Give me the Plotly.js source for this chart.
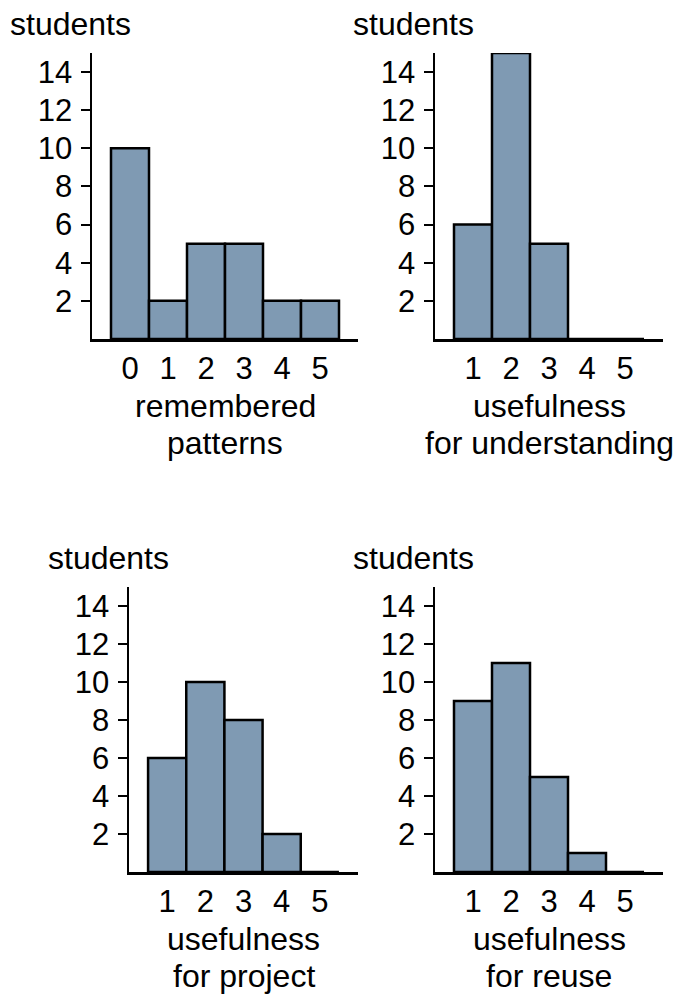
<!DOCTYPE html>
<html>
<head>
<meta charset="utf-8">
<script src="https://cdn.plot.ly/plotly-3.0.1.min.js"></script>
<style>
  html, body { margin: 0; padding: 0; background: #fff; }
  #chart { width: 676px; height: 994px; }
</style>
</head>
<body>
<div id="chart"></div>
<script>
// ---- data ----
const patternsCats = [0, 1, 2, 3, 4, 5];
const patternsCounts = [10, 2, 5, 5, 2, 2];

const ratingCats = [1, 2, 3, 4, 5];
const understandingCounts = [6, 15, 5, 0, 0];
const projectCounts = [6, 10, 8, 2, 0];
const reuseCounts = [9, 11, 5, 1, 0];

const yTickVals = [2, 4, 6, 8, 10, 12, 14];
const yLabel = "students";
const xTitles = [
  ["remembered", "patterns"],
  ["usefulness", "for understanding"],
  ["usefulness", "for project"],
  ["usefulness", "for reuse"]
];

// ---- styling ----
const W = 676, H = 994;
const FONT = "Liberation Sans, Arial, Helvetica, sans-serif";
const FS = 31;      // tick labels
const FS_T = 32;    // titles
const barColor = "#7f9ab3";

function px(x) { return x / W; }
function py(y) { return 1 - y / H; }

function barTrace(cats, vals, xa, ya) {
  return {
    type: "bar", x: cats, y: vals, width: 1,
    xaxis: xa, yaxis: ya,
    marker: { color: barColor, line: { color: "#000", width: 2.5 } },
    hoverinfo: "x+y"
  };
}

const traces = [
  barTrace(patternsCats, patternsCounts, "x", "y"),
  barTrace(ratingCats, understandingCounts, "x2", "y2"),
  barTrace(ratingCats, projectCounts, "x3", "y3"),
  barTrace(ratingCats, reuseCounts, "x4", "y4")
];

function xAxis(dom, range, ticks, anchor) {
  return {
    domain: dom, range: range, anchor: anchor,
    tickvals: ticks, ticktext: ticks.map(String),
    showgrid: false, zeroline: false,
    showline: true, linecolor: "#000", linewidth: 2.5,
    ticks: "", ticklabelstandoff: 0,
    tickfont: { family: FONT, size: FS, color: "#000" },
    fixedrange: true
  };
}
function yAxis(dom, anchor) {
  return {
    domain: dom, range: [0, 15], anchor: anchor,
    tickvals: yTickVals, ticktext: yTickVals.map(String),
    showgrid: false, zeroline: false,
    showline: true, linecolor: "#000", linewidth: 2.5,
    ticks: "outside", ticklen: 9, tickwidth: 2, tickcolor: "#000",
    ticklabelstandoff: 2,
    tickfont: { family: FONT, size: FS, color: "#000" },
    fixedrange: true
  };
}

const topY = [py(339), py(53)];
const botY = [py(872), py(587)];

// panel geometry in pixels
const panels = [
  { xl: 92,  xr: 358, base: 339, lab: 24 , labx: 8 },
  { xl: 435, xr: 663, base: 339, lab: 24 , labx: 351 },
  { xl: 129, xr: 358, base: 872, lab: 558, labx: 46 },
  { xl: 435, xr: 663, base: 872, lab: 558, labx: 351 }
];

const annotations = [];
panels.forEach(function (p, i) {
  annotations.push({
    text: yLabel, xref: "paper", yref: "paper",
    x: px(p.labx), y: py(p.lab), xanchor: "left", yanchor: "middle",
    showarrow: false, font: { family: FONT, size: FS_T, color: "#000" }
  });
  const cx = (p.xl + p.xr) / 2;
  xTitles[i].forEach(function (line, k) {
    annotations.push({
      text: line, xref: "paper", yref: "paper",
      x: px(cx), y: py(p.base + 67 + 37 * k), xanchor: "center", yanchor: "middle",
      showarrow: false, font: { family: FONT, size: FS_T, color: "#000" }
    });
  });
});

const layout = {
  width: W, height: H,
  margin: { l: 0, r: 0, t: 0, b: 0 },
  paper_bgcolor: "#fff", plot_bgcolor: "#fff",
  showlegend: false, bargap: 0,
  font: { family: FONT, size: FS, color: "#000" },
  xaxis: xAxis([px(92), px(358)], [-1, 6], patternsCats, "y"),
  yaxis: yAxis(topY, "x"),
  xaxis2: xAxis([px(435), px(663)], [0, 6], ratingCats, "y2"),
  yaxis2: yAxis(topY, "x2"),
  xaxis3: xAxis([px(129), px(358)], [0, 6], ratingCats, "y3"),
  yaxis3: yAxis(botY, "x3"),
  xaxis4: xAxis([px(435), px(663)], [0, 6], ratingCats, "y4"),
  yaxis4: yAxis(botY, "x4"),
  annotations: annotations
};

Plotly.newPlot("chart", traces, layout, { displayModeBar: false, staticPlot: true });
</script>
</body>
</html>
